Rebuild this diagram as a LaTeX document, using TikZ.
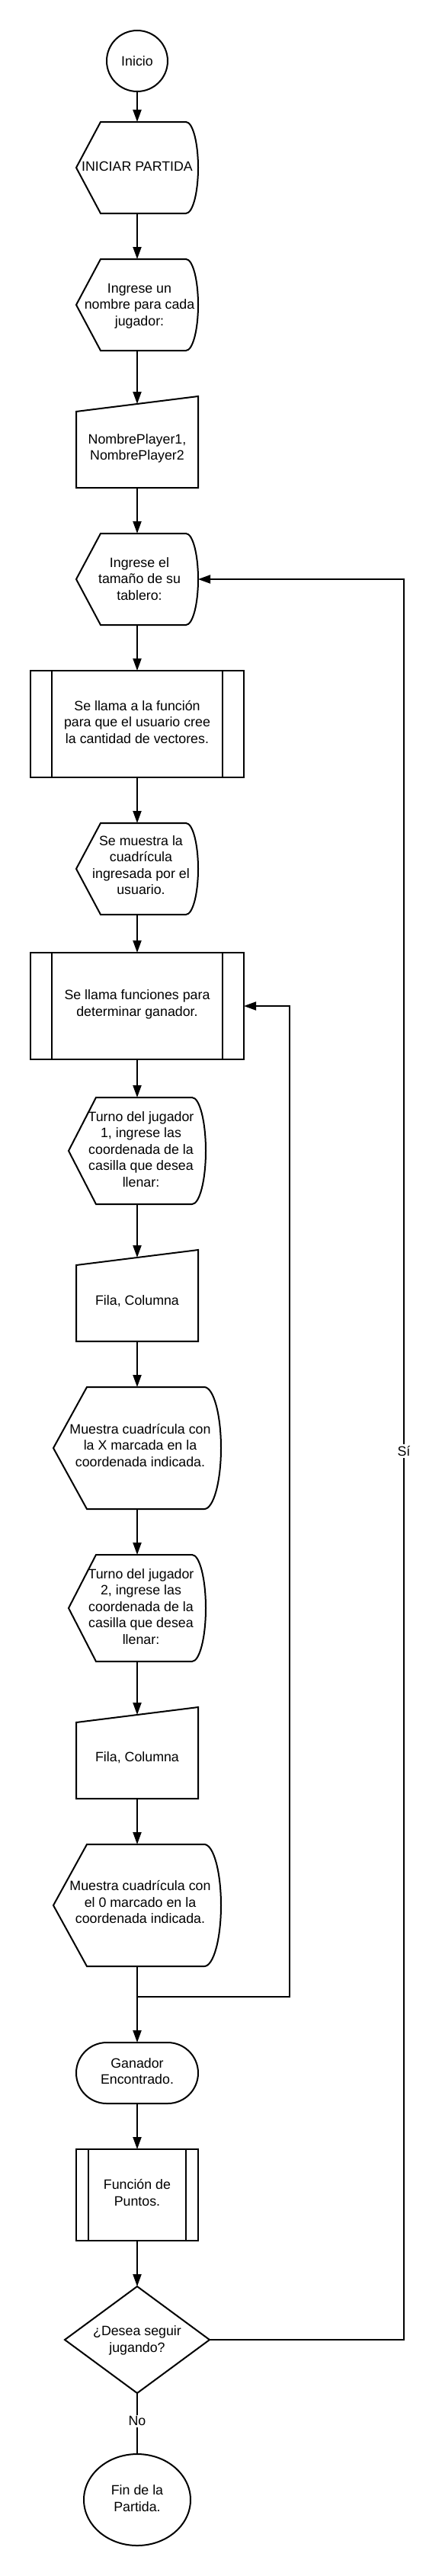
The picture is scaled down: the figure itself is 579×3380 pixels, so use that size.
\documentclass[tikz,border=0pt]{standalone}
\usepackage{fontspec}
\setmainfont{Liberation Sans}
\usetikzlibrary{arrows.meta,shapes.geometric,calc}
\newcommand\tx[3]{\raisebox{#2}[\height][\depth]{\hspace*{#1}\begin{tabular}{@{}c@{}}#3\end{tabular}\hspace*{-#1}}}
\newcommand\dispshape[1]{\draw[shp] let \p1=(#1.north west), \p2=(#1.south east) in
  (\x1,{0.5*\y1+0.5*\y2}) -- ({\x1+0.2*(\x2-(\x1))},\y1) -- ({\x2-0.1*(\x2-(\x1))},\y1)
  arc[start angle=90,end angle=-90,x radius={0.1*(\x2-(\x1))},y radius={0.5*(\y1-(\y2))}]
  -- ({\x1+0.2*(\x2-(\x1))},\y2) -- cycle;}
\newcommand\manshape[1]{\draw[shp] let \p1=(#1.north west), \p2=(#1.south east) in
  (\x1,\y2) -- (\x1,{\y1-20pt}) -- (\x2,\y1) -- (\x2,\y2) -- cycle;}
\newcommand\subshape[2]{\draw[shp] ([xshift=#2]#1.north west) -- ([xshift=#2]#1.south west)
  ([xshift=-#2]#1.north east) -- ([xshift=-#2]#1.south east);}
\tikzset{
  shp/.style={line width=2pt, draw=black},
  base/.style={inner sep=0pt, outer sep=0pt, font=\fontsize{17.8}{21.4}\selectfont},
  startbox/.style={base, shp, circle, minimum size=80pt},
  dispbox/.style={base, rectangle},
  manbox/.style={base, rectangle, minimum width=160pt, minimum height=120pt},
  subbox/.style={base, shp, rectangle},
  termbox/.style={base, shp, rectangle, rounded corners=40pt, minimum width=160pt, minimum height=80pt},
  decbox/.style={base, shp, diamond, aspect=1.36, minimum width=190pt, minimum height=140pt},
  endbox/.style={base, shp, ellipse, minimum width=140pt, minimum height=120pt},
  lbl/.style={base, fill=white, inner sep=2pt},
  conn/.style={line width=2pt},
  arr/.style={line width=2pt, -{Triangle[length=16pt,width=11pt]}}
}
\begin{document}
\begin{tikzpicture}[x=1pt,y=1pt]
\useasboundingbox (0,0) rectangle (579,-3380);
\node[startbox] (inicio) at (180,-80) {Inicio};
\node[dispbox, minimum width=160pt, minimum height=120pt] (iniciar) at (180,-220) {\tx{0pt}{0pt}{INICIAR PARTIDA}};
\node[dispbox, minimum width=160pt, minimum height=120pt] (nombre) at (180,-400) {\tx{3pt}{-1.5pt}{Ingrese un\\nombre para cada\\jugador:}};
\node[manbox] (players) at (180,-580) {\tx{0pt}{-9pt}{NombrePlayer1,\\NombrePlayer2}};
\node[dispbox, minimum width=160pt, minimum height=120pt] (tamano) at (180,-760) {\tx{3pt}{-1.5pt}{Ingrese el\\tamaño de su\\tablero:}};
\node[subbox, minimum width=280pt, minimum height=140pt] (func1) at (180,-950) {\tx{0pt}{0.5pt}{Se llama a la función\\para que el usuario cree\\la cantidad de vectores.}};
\node[dispbox, minimum width=160pt, minimum height=120pt] (cuad) at (180,-1140) {\tx{5pt}{2.6pt}{Se muestra la\\cuadrícula\\ingresada por el\\usuario.}};
\node[subbox, minimum width=280pt, minimum height=140pt] (func2) at (180,-1320) {\tx{0pt}{1.6pt}{Se llama funciones para\\determinar ganador.}};
\node[dispbox, minimum width=180pt, minimum height=140pt] (turno1) at (180,-1510) {\tx{5pt}{0pt}{Turno del jugador\\1, ingrese las\\coordenada de la\\casilla que desea\\llenar:}};
\node[manbox] (fila1) at (180,-1700) {\tx{0pt}{-8.4pt}{Fila, Columna}};
\node[dispbox, minimum width=220pt, minimum height=160pt] (mx) at (180,-1900) {\tx{4pt}{1.6pt}{Muestra cuadrícula con\\la X marcada en la\\coordenada indicada.}};
\node[dispbox, minimum width=180pt, minimum height=140pt] (turno2) at (180,-2110) {\tx{5pt}{0pt}{Turno del jugador\\2, ingrese las\\coordenada de la\\casilla que desea\\llenar:}};
\node[manbox] (fila2) at (180,-2300) {\tx{0pt}{-7pt}{Fila, Columna}};
\node[dispbox, minimum width=220pt, minimum height=160pt] (mo) at (180,-2500) {\tx{4pt}{2.3pt}{Muestra cuadrícula con\\el 0 marcado en la\\coordenada indicada.}};
\coordinate (join) at (180,-2620);
\coordinate (loopr) at (380,-2620);
\node[termbox] (ganador) at (180,-2720) {\tx{0pt}{0.5pt}{Ganador\\Encontrado.}};
\node[subbox, minimum width=160pt, minimum height=120pt] (puntos) at (180,-2880) {\tx{0pt}{0.7pt}{Función de\\Puntos.}};
\node[decbox] (desea) at (180,-3070) {\tx{0pt}{-1pt}{¿Desea seguir\\jugando?}};
\coordinate (sir) at (530,-3070);
\node[endbox] (fin) at (180,-3280) {\tx{0pt}{0pt}{Fin de la\\Partida.}};
% shapes
\dispshape{iniciar}
\dispshape{nombre}
\manshape{players}
\dispshape{tamano}
\subshape{func1}{28pt}
\dispshape{cuad}
\subshape{func2}{28pt}
\dispshape{turno1}
\manshape{fila1}
\dispshape{mx}
\dispshape{turno2}
\manshape{fila2}
\dispshape{mo}
\subshape{puntos}{16pt}
% connectors
\draw[arr] (inicio.south) -- (iniciar.north);
\draw[arr] (iniciar.south) -- (nombre.north);
\draw[arr] (nombre.south) -- ([yshift=-10pt]players.north);
\draw[arr] (players.south) -- (tamano.north);
\draw[arr] (tamano.south) -- (func1.north);
\draw[arr] (func1.south) -- (cuad.north);
\draw[arr] (cuad.south) -- (func2.north);
\draw[arr] (func2.south) -- (turno1.north);
\draw[arr] (turno1.south) -- ([yshift=-10pt]fila1.north);
\draw[arr] (fila1.south) -- (mx.north);
\draw[arr] (mx.south) -- (turno2.north);
\draw[arr] (turno2.south) -- ([yshift=-10pt]fila2.north);
\draw[arr] (fila2.south) -- (mo.north);
\draw[conn] (mo.south) -- (join);
\draw[arr] (join) -- (ganador.north);
\draw[arr] (join) -- (loopr) |- (func2.east);
\draw[arr] (ganador.south) -- (puntos.north);
\draw[arr] (puntos.south) -- (desea.north);
\draw[arr] (desea.east) -- (sir) |- node[lbl, pos=0.2524] {Sí} (tamano.east);
\draw[conn] (desea.south) -- node[lbl, pos=0.46] {No} (fin.north);
\end{tikzpicture}
\end{document}
